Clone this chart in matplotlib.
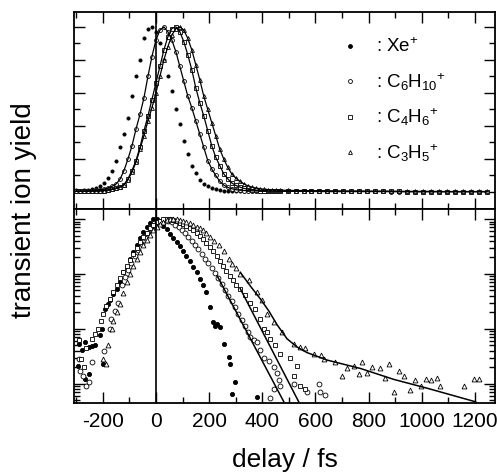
import matplotlib
matplotlib.use("Agg")
import matplotlib.pyplot as plt
import matplotlib.ticker as mtick
import numpy as np

plt.rcParams['font.family'] = ['Liberation Sans', 'DejaVu Sans']
plt.rcParams['mathtext.fontset'] = 'custom'
plt.rcParams['mathtext.rm'] = 'Liberation Sans'
plt.rcParams['mathtext.it'] = 'Liberation Sans:italic'
plt.rcParams['axes.unicode_minus'] = False

# ---- top panel (linear), delay in fs ----
top_delay = [-300, -285, -270, -255, -240, -225, -210, -195, -180, -165,
             -150, -135, -120, -105, -90, -75, -60, -45, -30, -15,
             0, 15, 30, 45, 60, 75, 90, 105, 120, 135,
             150, 165, 180, 195, 210, 225, 240, 255, 270, 285,
             300, 315, 330, 345, 360, 375, 390, 405, 420, 435, 450]
xe_top = [0.010, 0.008, 0.011, 0.012, 0.016, 0.024, 0.036, 0.055, 0.085, 0.125,
          0.19, 0.27, 0.35, 0.45, 0.58, 0.70, 0.80, 0.93, 0.99, 1.00,
          0.97, 0.90, 0.80, 0.70, 0.61, 0.50, 0.41, 0.31, 0.23, 0.16,
          0.115, 0.075, 0.050, 0.035, 0.024, 0.016, 0.011, 0.008, 0.006, 0.005,
          0.005, 0.004, 0.005, 0.004, 0.004, 0.003, 0.004, 0.003, 0.003, 0.004, 0.003]
c6h10_top = [0.005, 0.005, 0.006, 0.007, 0.008, 0.010, 0.013, 0.018, 0.025, 0.034,
             0.048, 0.077, 0.13, 0.20, 0.28, 0.38, 0.47, 0.57, 0.70, 0.82,
             0.92, 0.98, 1.00, 0.97, 0.92, 0.85, 0.76, 0.67, 0.58, 0.51,
             0.43, 0.35, 0.27, 0.19, 0.14, 0.10, 0.065, 0.042, 0.028, 0.020,
             0.014, 0.011, 0.009, 0.008, 0.007, 0.006, 0.006, 0.005, 0.005, 0.005, 0.005]
c4h6_top = [0.004, 0.004, 0.005, 0.005, 0.005, 0.006, 0.007, 0.009, 0.012, 0.016,
            0.022, 0.030, 0.045, 0.080, 0.13, 0.19, 0.27, 0.37, 0.46, 0.56,
            0.66, 0.76, 0.86, 0.94, 0.99, 1.00, 0.97, 0.91, 0.83, 0.74,
            0.63, 0.54, 0.46, 0.37, 0.28, 0.21, 0.16, 0.11, 0.08, 0.055,
            0.040, 0.030, 0.022, 0.017, 0.013, 0.011, 0.009, 0.008, 0.007, 0.006, 0.006]
c3h5_top = [0.004, 0.004, 0.004, 0.005, 0.005, 0.006, 0.007, 0.009, 0.012, 0.016,
            0.022, 0.030, 0.042, 0.075, 0.12, 0.18, 0.26, 0.34, 0.43, 0.51,
            0.60, 0.70, 0.80, 0.88, 0.95, 0.99, 1.00, 0.98, 0.93, 0.86,
            0.77, 0.68, 0.58, 0.50, 0.42, 0.34, 0.26, 0.20, 0.15, 0.11,
            0.085, 0.065, 0.050, 0.038, 0.030, 0.024, 0.020, 0.017, 0.015, 0.013, 0.012]

tail_delay = [465, 495, 525, 555, 585, 615, 645, 675, 705, 735, 765, 795, 825, 855,
              885, 915, 945, 975, 1005, 1035, 1065, 1095, 1125, 1155, 1185, 1215, 1245]
c6h10_tail = [0.004, 0.004, 0.004, 0.004, 0.003, 0.003, 0.003, 0.003, 0.003, 0.003, 0.003,
              0.003, 0.003, 0.003, 0.002, 0.002, 0.002, 0.002, 0.002, 0.002, 0.002,
              0.002, 0.002, 0.002, 0.002, 0.002, 0.002]
c4h6_tail = [0.005, 0.005, 0.004, 0.004, 0.004, 0.004, 0.003, 0.003, 0.003, 0.003, 0.003,
             0.003, 0.003, 0.003, 0.003, 0.003, 0.002, 0.002, 0.002, 0.002, 0.002,
             0.002, 0.002, 0.002, 0.002, 0.002, 0.002]
c3h5_tail = [0.011, 0.010, 0.009, 0.009, 0.008, 0.008, 0.007, 0.007, 0.006, 0.006, 0.006,
             0.005, 0.005, 0.005, 0.005, 0.004, 0.004, 0.004, 0.004, 0.004, 0.003,
             0.003, 0.003, 0.003, 0.003, 0.003, 0.003]

# ---- bottom panel (log) ----
xe_bot_delay = [-292, -290, -279, -268, -265, -252, -250, -240, -228, -211,
                -201, -200, -192, -179, -173, -161, -148, -136, -123, -110,
                -98, -85, -72, -60, -47, -35, -22, -10, 3, 15,
                28, 40, 53, 65, 78, 90, 103, 115, 128, 140,
                153, 165, 178, 190, 203, 216, 223, 230, 242, 255,
                274, 280, 286, 299, 380]
xe_bot = [0.0021, 0.0054, 0.0041, 0.0012, 0.0058, 0.0047, 0.0015, 0.0049, 0.005, 0.0076,
          0.01, 0.0023, 0.023, 0.028, 0.033, 0.044, 0.054, 0.071, 0.107, 0.13,
          0.19, 0.25, 0.33, 0.45, 0.58, 0.72, 0.85, 1.0, 0.98, 0.88,
          0.76, 0.65, 0.54, 0.45, 0.38, 0.32, 0.26, 0.21, 0.17, 0.135,
          0.107, 0.081, 0.062, 0.047, 0.025, 0.0135, 0.0115, 0.0123, 0.011, 0.0054,
          0.0031, 0.0023, 0.00065, 0.0011, 0.00058]

c6h10_bot_delay = [-290, -286, -273, -261, -251, -240, -195, -173, -167, -154,
                   -142, -129, -117, -104, -92, -79, -66, -53, -40, -28,
                   -15, -3, 10, 22, 35, 47, 60, 72, 85, 97,
                   110, 122, 135, 147, 160, 172, 185, 197, 210, 222,
                   235, 247, 260, 272, 285, 297, 310, 322, 335, 347,
                   355, 368, 380, 393, 405, 424, 443, 455, 462, 468,
                   443, 430, 518, 568, 612, 618, 637]
c6h10_bot = [0.0028, 0.0017, 0.0014, 0.00093, 0.0011, 0.0025, 0.004, 0.01, 0.015, 0.021,
             0.03, 0.062, 0.087, 0.117, 0.16, 0.21, 0.275, 0.355, 0.45, 0.55,
             0.66, 0.78, 0.87, 0.93, 0.95, 0.93, 0.87, 0.79, 0.71, 0.63,
             0.55, 0.47, 0.40, 0.34, 0.28, 0.234, 0.19, 0.155, 0.126, 0.102,
             0.083, 0.066, 0.05, 0.04, 0.032, 0.0245, 0.019, 0.0148, 0.0112, 0.0089,
             0.0071, 0.0062, 0.0058, 0.0041, 0.003, 0.0026, 0.002, 0.0016, 0.00115, 0.00093,
             0.00081, 0.00054, 0.001, 0.0007, 0.001, 0.0007, 0.00062]

c4h6_bot_delay = [-290, -280, -270, -261, -242, -230, -217, -205, -198, -186,
                  -173, -161, -148, -136, -123, -110, -98, -85, -72, -60,
                  -47, -35, -22, -10, 3, 15, 28, 40, 53, 65,
                  78, 90, 103, 115, 128, 140, 153, 165, 178, 190,
                  203, 215, 228, 240, 253, 265, 278, 290, 303, 315,
                  336, 355, 374, 393, 405, 418, 430, 449, 468, 506,
                  531, 518, 543, 562]
c4h6_bot = [0.0063, 0.0028, 0.002, 0.0044, 0.0066, 0.0081, 0.01, 0.014, 0.0186, 0.026,
            0.035, 0.047, 0.063, 0.083, 0.11, 0.14, 0.18, 0.234, 0.30, 0.38,
            0.47, 0.56, 0.68, 0.78, 0.87, 0.93, 0.98, 1.0, 0.99, 0.95,
            0.91, 0.86, 0.80, 0.74, 0.68, 0.62, 0.55, 0.49, 0.43, 0.36,
            0.31, 0.26, 0.21, 0.17, 0.138, 0.112, 0.091, 0.076, 0.063, 0.054,
            0.041, 0.03, 0.023, 0.015, 0.01, 0.0087, 0.0066, 0.005, 0.0035, 0.003,
            0.0021, 0.0014, 0.00093, 0.00081]

c3h5_bot_delay = [-200, -186, -180, -165, -160, -148, -136, -123, -110, -98,
                  -85, -72, -60, -47, -35, -22, -10, 3, 15, 28,
                  40, 53, 65, 78, 90, 103, 115, 128, 140, 153,
                  165, 178, 190, 205, 220, 236, 255, 274, 286, 300,
                  317, 349, 380, 399, 418, 443, 474, 518, 543, 562,
                  593, 619, 631, 675, 700, 719, 744, 763, 775, 794,
                  813, 844, 863, 876, 895, 913, 932, 957, 976, 995,
                  1014, 1033, 1058, 1070, 1158, 1196, 1215]
c3h5_bot = [0.0028, 0.0023, 0.005, 0.01, 0.014, 0.02, 0.028, 0.045, 0.071, 0.1,
            0.14, 0.19, 0.25, 0.33, 0.42, 0.51, 0.62, 0.72, 0.81, 0.89,
            0.95, 1.0, 1.0, 0.98, 0.95, 0.91, 0.87, 0.83, 0.78, 0.72,
            0.68, 0.62, 0.55, 0.47, 0.40, 0.34, 0.26, 0.19, 0.15, 0.126,
            0.1, 0.076, 0.047, 0.033, 0.0186, 0.0132, 0.0087, 0.0054, 0.0047, 0.0044,
            0.0035, 0.0034, 0.0028, 0.0025, 0.0014, 0.0019, 0.0021, 0.0015, 0.0025, 0.0016,
            0.002, 0.0019, 0.0013, 0.0023, 0.0007, 0.0017, 0.0014, 0.00076, 0.00115, 0.00093,
            0.0012, 0.00115, 0.0013, 0.00093, 0.00093, 0.0012, 0.0012]

# fitted decays drawn in the log panel
fit_c6h10_delay = [230, 481]
fit_c6h10 = [0.093, 0.00047]
fit_c4h6_delay = [317, 537]
fit_c4h6 = [0.054, 0.00047]
fit_c3h5_delay = [317, 360, 393, 425, 455, 493, 530, 568, 644, 769, 895, 1020, 1202]
fit_c3h5 = [0.107, 0.056, 0.035, 0.021, 0.012, 0.0066, 0.0047, 0.0037, 0.0027,
            0.0019, 0.0012, 0.00083, 0.00047]

fig = plt.figure(figsize=(4.97, 4.77), dpi=100)
ax1 = fig.add_axes([74/497, 1-210/477, 421/497, 197/477])
ax2 = fig.add_axes([74/497, 1-404/477, 421/497, 194/477])

mk = dict(linestyle='none', color='k', mew=0.6)

# top panel
ax1.plot(top_delay, xe_top, marker='o', ms=2.3, **mk)
ax1.plot(top_delay, c6h10_top, marker='o', ms=2.8, mfc='white', **mk)
ax1.plot(top_delay, c4h6_top, marker='s', ms=2.5, mfc='white', **mk)
ax1.plot(top_delay, c3h5_top, marker='^', ms=2.8, mfc='white', **mk)
ax1.plot(tail_delay, c6h10_tail, marker='o', ms=2.8, mfc='white', **mk)
ax1.plot(tail_delay, c4h6_tail, marker='s', ms=2.5, mfc='white', **mk)
ax1.plot(tail_delay, c3h5_tail, marker='^', ms=2.8, mfc='white', **mk)
for vals, tail in [(c6h10_top, c6h10_tail), (c4h6_top, c4h6_tail), (c3h5_top, c3h5_tail)]:
    ax1.plot(top_delay + tail_delay, vals + tail, color='k', lw=0.9)
ax1.axvline(0, color='k', lw=1.2)
ax1.set_ylim(-0.103, 1.09)
ax1.yaxis.set_major_locator(mtick.MultipleLocator(0.2))
ax1.yaxis.set_minor_locator(mtick.MultipleLocator(0.1))

# legend drawn by hand
leg = [('o', 'k', ': Xe$^{+}$'),
       ('o', 'white', ': C$_{6}$H$_{10}{}^{+}$'),
       ('s', 'white', ': C$_{4}$H$_{6}{}^{+}$'),
       ('^', 'white', ': C$_{3}$H$_{5}{}^{+}$')]
for i, (m, fc, lab) in enumerate(leg):
    yy = 0.827 - i*0.179
    ax1.plot([0.656], [yy], marker=m, ms=2.8, mfc=fc, transform=ax1.transAxes, **mk)
    ax1.text(0.718, yy, lab, transform=ax1.transAxes, va='center', ha='left', fontsize=13.5)

# bottom panel
ax2.set_yscale('log')
ax2.plot(xe_bot_delay, xe_bot, marker='o', ms=3.0, **mk)
ax2.plot(c6h10_bot_delay, c6h10_bot, marker='o', ms=3.5, mfc='white', **mk)
ax2.plot(c4h6_bot_delay, c4h6_bot, marker='s', ms=3.0, mfc='white', **mk)
ax2.plot(c3h5_bot_delay, c3h5_bot, marker='^', ms=3.5, mfc='white', **mk)
ax2.plot(fit_c6h10_delay, fit_c6h10, color='k', lw=1.1)
ax2.plot(fit_c4h6_delay, fit_c4h6, color='k', lw=1.1)
ax2.plot(fit_c3h5_delay, fit_c3h5, color='k', lw=1.1)
ax2.axvline(0, color='k', lw=1.2)
ax2.set_ylim(4.47e-4, 1.52)
ax2.yaxis.set_major_locator(mtick.LogLocator(base=10, numticks=10))
ax2.yaxis.set_minor_locator(mtick.LogLocator(base=10, subs=np.arange(2, 10), numticks=10))

for ax in (ax1, ax2):
    ax.set_xlim(-308, 1275)
    ax.xaxis.set_major_locator(mtick.MultipleLocator(200))
    ax.xaxis.set_minor_locator(mtick.MultipleLocator(100))
    ax.tick_params(which='both', direction='in', top=True, right=True, width=1.0)
    ax.tick_params(which='major', length=8)
    ax.tick_params(which='minor', length=4)
    ax.tick_params(axis='y', labelleft=False, labelright=False)
    for s in ax.spines.values():
        s.set_linewidth(1.3)

ax1.tick_params(axis='x', labelbottom=False)
ax2.tick_params(axis='x', labelsize=15, pad=6)
ax2.set_xlabel('delay / fs', fontsize=19, labelpad=12)
fig.text(24/497, 1-210/477, 'transient ion yield', rotation=90, fontsize=20,
         ha='center', va='center')

plt.savefig('out.png', dpi=100)
